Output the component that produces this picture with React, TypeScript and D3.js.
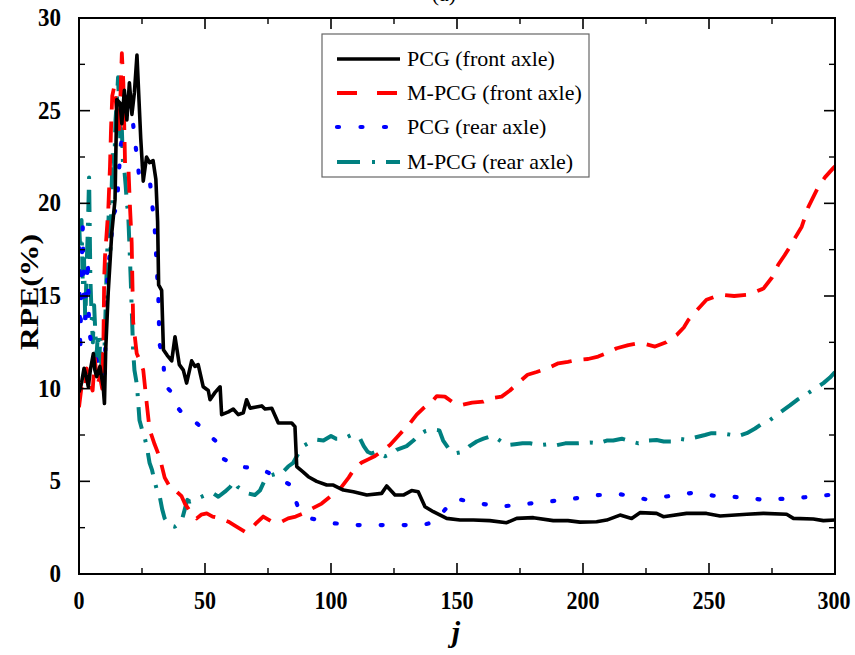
import React from "react";
import * as d3 from "d3";

// ---------- data ----------
const xTicksMajor = [0, 50, 100, 150, 200, 250, 300];
const yTicksMajor = [0, 5, 10, 15, 20, 25, 30];
const seriesNames = ["PCG (front axle)", "M-PCG (front axle)", "PCG (rear axle)", "M-PCG (rear axle)"];

const pcgFront: [number, number][] = [
  [0, 9.8], [1, 10.3], [2, 11.1], [3, 10.6], [3.7, 10.1], [4.5, 11.0], [5.7, 11.9], [6.3, 11.0], [7, 10.65],
  [8.3, 11.2], [9, 10.6], [9.6, 10.1], [10.1, 9.2], [10.6, 12.1], [11.6, 15.2], [13, 18.4], [14.3, 20.2],
  [15, 25.6], [16.3, 25.4], [17, 24.3], [18, 26.1], [19, 24.5], [20, 26.5], [21, 24.8], [22, 26.0], [23, 28.0],
  [24.5, 23.5], [25.5, 21.2], [26.8, 22.5], [28, 22.2], [29.4, 22.3], [30.5, 21.3], [31.2, 19.0], [31.6, 15.6],
  [32.8, 15.3], [33.5, 12.1], [35, 11.8], [36.8, 11.5], [38.1, 12.8], [39.8, 11.3], [41.4, 11.0], [42.7, 10.3],
  [44.7, 11.5], [46, 11.2], [47.3, 11.3], [49.3, 10.1], [51.3, 9.9], [52, 9.4], [54, 9.8], [56, 10.1], [56.6, 8.6],
  [59.3, 8.75], [61.2, 8.9], [63.2, 8.6], [65.2, 8.7], [66.5, 9.4], [67.9, 8.95], [69.8, 9.0], [72.5, 9.07],
  [73.8, 8.9], [76.5, 8.94], [79.1, 8.15], [84.4, 8.15], [85.7, 7.95], [86.4, 5.8], [89, 5.5], [91, 5.25],
  [94.3, 5.0], [98.3, 4.8], [100.9, 4.8], [104.9, 4.53], [108.9, 4.44], [114.2, 4.26], [120.1, 4.35], [122.1, 4.75],
  [125.4, 4.26], [128.7, 4.26], [132, 4.5], [134.6, 4.44], [137.3, 3.63], [140.6, 3.36], [145.9, 3.0], [151.2, 2.91],
  [156.5, 2.91], [163, 2.88], [169.7, 2.77], [173.7, 3.0], [180.3, 3.04], [188.2, 2.88], [194, 2.88], [198.8, 2.8],
  [205.4, 2.82], [209.4, 2.91], [214.7, 3.18], [219.3, 3.0], [222.6, 3.31], [229.2, 3.27], [231.9, 3.09],
  [241.1, 3.27], [249, 3.27], [254.4, 3.13], [265, 3.22], [271.6, 3.27], [280.8, 3.22], [283.5, 3.0], [291.4, 2.97],
  [295.4, 2.88], [300, 2.91],
];

const mpcgFront: [number, number][] = [
  [0, 9.0], [1, 10.1], [2.4, 9.9], [3, 11.1], [4.4, 10.3], [5.4, 9.9], [6.3, 11.6], [7.3, 10.2], [8.3, 10.65],
  [9.2, 10.0], [9.7, 12.6], [10, 16.0], [10.3, 17.1], [11.6, 19.6], [12.3, 22.0], [12.7, 24.0], [13.2, 25.8],
  [14, 26.3], [15, 25.0], [16, 24.0], [16.5, 26.0], [17, 28.1], [17.6, 26.5], [18.3, 22.0], [19.6, 22.0],
  [20.2, 19.9], [20.9, 17.9], [21.5, 13.6], [22.9, 11.9], [24.2, 11.5], [25.5, 11.0], [26.8, 9.3], [28, 7.8],
  [30, 7.0], [32, 6.3], [34, 5.2], [36.5, 4.6], [38.8, 4.44], [40.7, 4.2], [42, 3.8], [44, 3.4], [46.7, 3.0],
  [48.5, 3.2], [50.7, 3.27], [53, 3.1], [56, 3.0], [59.3, 2.82], [62, 2.6], [65.9, 2.28], [68, 2.4], [70, 2.7],
  [73.1, 3.1], [76.5, 2.82], [80.4, 2.82], [83, 3.0], [86, 3.1], [89, 3.27], [92, 3.5], [96.3, 3.8], [99, 4.1],
  [101.5, 4.4], [104.2, 4.7], [107, 5.2], [108.9, 5.6], [112, 6.0], [115, 6.2], [117.5, 6.37], [120, 6.6],
  [123.4, 6.96], [127, 7.5], [131.3, 8.13], [134, 8.6], [136.6, 8.94], [140, 9.3], [142, 9.6], [145.2, 9.57],
  [148, 9.3], [151.9, 9.12], [156, 9.25], [160.4, 9.3], [164, 9.5], [167.7, 9.57], [171, 9.9], [175, 10.4],
  [178, 10.75], [181.6, 10.9], [186, 11.1], [190.2, 11.37], [194, 11.45], [197.5, 11.55], [202, 11.6], [206, 11.73],
  [210, 11.95], [213.4, 12.18], [218, 12.35], [222, 12.45], [225, 12.4], [228.6, 12.27], [233, 12.5], [237.2, 12.9],
  [240, 13.3], [241.8, 13.7], [245, 14.2], [249, 14.8], [252, 14.95], [255.7, 15.06], [260, 15.0], [265, 15.06],
  [268, 15.2], [271.6, 15.4], [275, 16.0], [277.5, 16.7], [280, 17.2], [282.1, 17.66], [286.8, 18.74],
  [289.4, 19.8], [293.4, 20.9], [296, 21.4], [299.3, 21.9], [300, 22.0],
];

const pcgRear: [number, number][] = [
  [0, 17.6], [0.5, 11.9], [1, 16.4], [1.5, 18.7], [2, 14.4], [2.5, 13.8], [3, 15.3], [3.5, 17.0], [4, 13.1],
  [5, 12.4], [6, 12.0], [7, 11.5], [8, 10.85], [9, 10.5], [10, 10.0], [10.5, 12.5], [11, 15.2], [11.5, 16.5],
  [12, 17.0], [13, 18.4], [14, 19.5], [15, 19.8], [16, 22.0], [17, 23.6], [18, 24.9], [19, 26.1], [20, 24.9],
  [21, 24.9], [22, 23.6], [23, 22.5], [24, 21.3], [25.5, 22.1], [27, 21.9], [28, 21.4], [29, 20.0], [30, 18.8],
  [30.5, 17.5], [31, 16.2], [31.5, 14.9], [31.7, 13.7], [32, 12.4], [33.5, 11.5], [34, 10.2], [36.5, 9.84],
  [39, 9.0], [41, 8.67], [44.5, 8.4], [49, 7.86], [54.5, 7.14], [57, 6.24], [63, 5.79], [72, 5.7], [78, 5.25],
  [84, 4.8], [85.5, 4.2], [87, 3.55], [92, 3.0], [101, 2.74], [110, 2.64], [119, 2.64], [128, 2.64], [136, 2.64],
  [141, 2.8], [144, 3.27], [149, 4.08], [157, 3.85], [167, 3.63], [177, 3.78], [186, 3.9], [197, 4.08],
  [206, 4.26], [215, 4.3], [225, 4.03], [234, 4.2], [244, 4.39], [253, 4.2], [263, 4.14], [272, 4.0],
  [282, 4.08], [291, 4.17], [300, 4.3],
];

const mpcgRear: [number, number][] = [
  [0, 19.0], [0.5, 17.5], [1, 19.1], [1.5, 15.5], [2, 17.0], [2.5, 13.5], [3, 16.5], [3.5, 18.5], [4, 21.4],
  [4.5, 16.0], [5, 14.0], [5.5, 12.5], [6, 14.5], [6.5, 13.0], [7, 11.8], [7.5, 13.0], [8, 11.5], [8.5, 12.8],
  [9, 11.0], [9.5, 10.0], [10, 11.5], [10.5, 14.0], [11, 16.5], [11.5, 18.5], [12, 20.0], [12.5, 17.5],
  [13, 21.0], [13.5, 23.0], [14, 22.0], [14.5, 24.5], [15, 25.5], [15.5, 26.8], [16, 25.0], [16.5, 23.0],
  [17, 24.0], [17.5, 22.0], [18, 21.8], [18.5, 21.0], [19, 20.0], [19.5, 19.5], [20, 17.8], [20.5, 16.0],
  [21, 14.0], [21.5, 12.0], [22, 11.0], [23, 10.2], [24, 8.3], [25, 7.8], [26, 7.4], [27, 6.8], [28, 6.0],
  [29, 5.6], [30, 5.0], [31, 4.5], [32, 4.2], [33, 3.5], [34, 3.0], [35, 2.8], [36.5, 2.6], [38, 2.55],
  [39.5, 2.7], [41, 3.0], [42, 3.5], [43, 4.0], [44, 3.9], [46, 4.0], [48.7, 4.17], [51, 4.3], [53.3, 4.35],
  [55.3, 4.17], [57.9, 4.44], [60, 4.7], [61.5, 5.0], [63, 4.7], [65.2, 4.53], [67, 4.35], [69.8, 4.26],
  [71.8, 4.5], [73.5, 5.0], [75.8, 5.3], [78, 5.4], [80.4, 5.43], [83, 5.8], [85, 6.0], [87, 6.5], [89, 6.9],
  [91.5, 7.1], [94, 7.25], [97, 7.2], [100, 7.45], [102, 7.3], [105, 7.3], [108, 7.5], [111.5, 7.32], [113, 6.9],
  [114.5, 6.6], [116, 6.5], [118, 6.6], [121.4, 6.35], [124, 6.5], [126, 6.7], [130, 6.9], [132.7, 7.2],
  [135, 7.5], [137.3, 7.7], [140, 7.8], [143, 7.75], [144.5, 7.2], [146.5, 6.8], [149, 6.5], [152.5, 6.6],
  [155, 6.9], [157.8, 7.15], [160.5, 7.3], [163.8, 7.45], [166, 7.3], [169.7, 6.95], [173, 7.0], [176, 7.05],
  [179, 7.05], [183, 6.95], [186, 7.0], [189.6, 6.95], [193, 7.05], [197.5, 7.05], [202.8, 7.1], [206, 7.05],
  [209.4, 7.2], [212, 7.2], [215.4, 7.3], [219, 7.15], [222, 7.05], [225, 7.2], [229.2, 7.23], [232, 7.15],
  [235.8, 7.15], [238, 7.3], [240.5, 7.25], [244, 7.35], [248.4, 7.5], [251, 7.6], [254.4, 7.6], [257, 7.55],
  [261.6, 7.45], [265, 7.6], [268.3, 7.85], [271, 8.1], [274.2, 8.3], [278, 8.7], [282.1, 9.1], [285, 9.4],
  [288.1, 9.65], [292, 10.0], [295.4, 10.3], [298, 10.6], [300, 10.9],
];

// ---------- layout ----------
const W = 855;
const H = 655;
const L = 79, R = 835, T = 18, B = 574;

const serif = "'Times New Roman', 'Liberation Serif', serif";

const styles = [
  { color: "#000000", width: 3.6, dash: "none", cap: "butt" },
  { color: "#ff0000", width: 3.8, dash: "21,12", cap: "butt" },
  { color: "#0000ff", width: 4.2, dash: "2,21", cap: "round" },
  { color: "#008080", width: 4, dash: "22,11,3,11", cap: "butt" },
];

export default function App() {
  const x = d3.scaleLinear().domain([0, 300]).range([L, R]);
  const y = d3.scaleLinear().domain([0, 30]).range([B, T]);
  const line = d3
    .line<[number, number]>()
    .x((d) => x(d[0]))
    .y((d) => y(d[1]));
  const all = [pcgFront, mpcgFront, pcgRear, mpcgRear];
  const xMinor = d3.range(25, 300, 50);
  const yMinor = d3.range(2.5, 30, 5);
  const legendRows = [59, 93, 127, 162];

  return (
    <svg
      width={W}
      height={H}
      style={{ position: "absolute", left: 0, top: 0, background: "#fff" }}
      fontFamily={serif}
    >
      <rect x={0} y={0} width={W} height={H} fill="#fff" />
      {/* title, cut off at the top edge as in the reference */}
      <text x={444} y={1} textAnchor="middle" fontSize={22}>
        (a)
      </text>

      <defs>
        <clipPath id="plotclip">
          <rect x={L} y={T - 2} width={R - L} height={B - T + 2} />
        </clipPath>
      </defs>

      <g clipPath="url(#plotclip)">
        {[3, 2, 1, 0].map((i) => (
          <path
            key={i}
            d={line(all[i]) || ""}
            fill="none"
            stroke={styles[i].color}
            strokeWidth={styles[i].width}
            strokeDasharray={styles[i].dash}
            strokeLinecap={styles[i].cap as any}
            strokeLinejoin="round"
          />
        ))}
      </g>

      {/* frame */}
      <rect x={L} y={T} width={R - L} height={B - T} fill="none" stroke="#000" strokeWidth={2} />

      {/* ticks */}
      {xTicksMajor.map((t) => (
        <g key={"xt" + t}>
          <line x1={x(t)} x2={x(t)} y1={B} y2={B - 11} stroke="#000" strokeWidth={1.6} />
          <line x1={x(t)} x2={x(t)} y1={T} y2={T + 11} stroke="#000" strokeWidth={1.6} />
          <text
            x={x(t) - (t === 300 ? 1 : 0)}
            y={B + 35}
            textAnchor="middle"
            fontSize={26}
            fontWeight="bold"
            textLength={String(t).length * 11}
            lengthAdjust="spacingAndGlyphs"
          >
            {t}
          </text>
        </g>
      ))}
      {xMinor.map((t) => (
        <g key={"xm" + t}>
          <line x1={x(t)} x2={x(t)} y1={B} y2={B - 6} stroke="#000" strokeWidth={1.4} />
          <line x1={x(t)} x2={x(t)} y1={T} y2={T + 6} stroke="#000" strokeWidth={1.4} />
        </g>
      ))}
      {yTicksMajor.map((t) => (
        <g key={"yt" + t}>
          <line x1={L} x2={L + 11} y1={y(t)} y2={y(t)} stroke="#000" strokeWidth={1.6} />
          <line x1={R} x2={R - 11} y1={y(t)} y2={y(t)} stroke="#000" strokeWidth={1.6} />
          <text
            x={61}
            y={y(t) + 8}
            textAnchor="end"
            fontSize={26}
            fontWeight="bold"
            textLength={String(t).length * 11.5}
            lengthAdjust="spacingAndGlyphs"
          >
            {t}
          </text>
        </g>
      ))}
      {yMinor.map((t) => (
        <g key={"ym" + t}>
          <line x1={L} x2={L + 6} y1={y(t)} y2={y(t)} stroke="#000" strokeWidth={1.4} />
          <line x1={R} x2={R - 6} y1={y(t)} y2={y(t)} stroke="#000" strokeWidth={1.4} />
        </g>
      ))}

      {/* axis titles */}
      <text
        transform={`translate(38,${(T + B) / 2 - 4}) rotate(-90)`}
        textAnchor="middle"
        fontSize={26}
        fontWeight="bold"
        textLength={116}
        lengthAdjust="spacingAndGlyphs"
      >
        RPE(%)
      </text>
      <text x={456} y={642} textAnchor="middle" fontSize={30} fontWeight="bold" fontStyle="italic">
        j
      </text>

      {/* legend */}
      <rect x={322} y={34} width={267} height={143} fill="#fff" stroke="#666" strokeWidth={1.2} />
      {seriesNames.map((name, i) => (
        <g key={name}>
          <line
            x1={337}
            x2={400}
            y1={legendRows[i]}
            y2={legendRows[i]}
            stroke={styles[i].color}
            strokeWidth={styles[i].width}
            strokeDasharray={i === 1 ? "20,20" : i === 2 ? "2,21.5" : i === 3 ? "23,12,3,11" : "none"}
            strokeLinecap={styles[i].cap as any}
          />
          <text x={407} y={legendRows[i] + 7} fontSize={22}>
            {name}
          </text>
        </g>
      ))}
    </svg>
  );
}
